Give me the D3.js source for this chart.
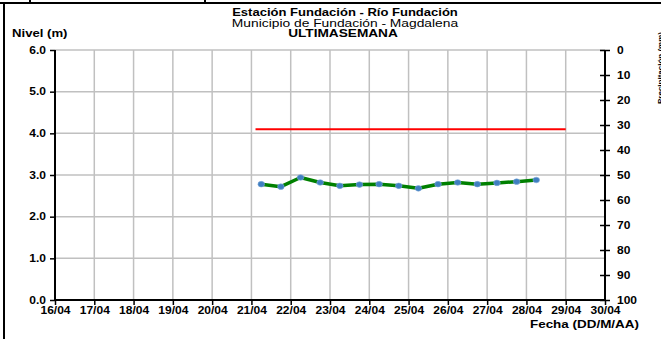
<!DOCTYPE html>
<html>
<head>
<meta charset="utf-8">
<title>nivel</title>
<style>
  body { margin: 0; background: #fff; }
  svg text { font-family: "Liberation Sans", Arial, sans-serif; }
</style>
</head>
<body>
<svg id="chart"></svg>
<script src="https://cdn.jsdelivr.net/npm/d3@7"></script>
<script>
var fechas = ["2024-04-21 06:00", "2024-04-21 18:00", "2024-04-22 06:00", "2024-04-22 18:00",
              "2024-04-23 06:00", "2024-04-23 18:00", "2024-04-24 06:00", "2024-04-24 18:00",
              "2024-04-25 06:00", "2024-04-25 18:00", "2024-04-26 06:00", "2024-04-26 18:00",
              "2024-04-27 06:00", "2024-04-27 18:00", "2024-04-28 06:00"];
var niveles = [2.78, 2.72, 2.94, 2.82, 2.74, 2.77, 2.78, 2.74, 2.68, 2.78, 2.82, 2.78, 2.81, 2.84, 2.88];
var umbral = 4.1;
var umbralDesde = "2024-04-21 02:30";
var umbralHasta = "2024-04-29 00:00";
var yTicks = [0, 1, 2, 3, 4, 5, 6];
var precipTicks = [0, 10, 20, 30, 40, 50, 60, 70, 80, 90, 100];

var W = 661, H = 339;
var mLeft = 55, mRight = 605, mTop = 50, mBottom = 300;
var parse = d3.timeParse("%Y-%m-%d %H:%M");

var svg = d3.select("#chart").attr("width", W).attr("height", H);

// stretch text horizontally (reference font is wider than Liberation Sans)
function stretch(sel, k) {
    sel.each(function() {
        var len = this.getComputedTextLength();
        d3.select(this).attr("textLength", len * k).attr("lengthAdjust", "spacingAndGlyphs");
    });
}

// frame
svg.append("line").attr("x1", 0).attr("x2", W).attr("y1", 3).attr("y2", 3)
   .attr("stroke", "#000").attr("stroke-width", 2);
svg.append("line").attr("x1", 4).attr("x2", 4).attr("y1", 3).attr("y2", H)
   .attr("stroke", "#000").attr("stroke-width", 2);
[30, 205].forEach(function(x) {
    svg.append("line").attr("x1", x).attr("x2", x).attr("y1", 0).attr("y2", 3)
       .attr("stroke", "#000").attr("stroke-width", 2);
});

var x = d3.scaleTime()
    .domain([new Date(2024, 3, 16), new Date(2024, 3, 30)])
    .range([mLeft, mRight]);
var y = d3.scaleLinear().domain([0, 6]).range([mBottom, mTop]);
var y2 = d3.scaleLinear().domain([0, 100]).range([mTop, mBottom]);
var days = d3.timeDay.range(new Date(2024, 3, 16), new Date(2024, 3, 31));

// grid
svg.append("g").selectAll("line").data(days.slice(1, -1)).enter().append("line")
    .attr("x1", d => x(d)).attr("x2", d => x(d))
    .attr("y1", mTop).attr("y2", mBottom)
    .attr("stroke", "#c0c0c0").attr("stroke-width", 1.5);
svg.append("g").selectAll("line").data(yTicks.slice(1)).enter().append("line")
    .attr("x1", mLeft).attr("x2", mRight)
    .attr("y1", d => y(d)).attr("y2", d => y(d))
    .attr("stroke", "#c0c0c0").attr("stroke-width", 1.5);

// left axis
var gy = svg.append("g").attr("transform", "translate(" + mLeft + ",0)")
    .call(d3.axisLeft(y).tickValues(yTicks).tickFormat(d3.format(".1f")).tickSize(5).tickPadding(4));
// bottom axis
var gx = svg.append("g").attr("transform", "translate(0," + mBottom + ")")
    .call(d3.axisBottom(x).tickValues(days).tickFormat(d3.timeFormat("%d/%m")).tickSize(5).tickPadding(2));
// right axis
var gr = svg.append("g").attr("transform", "translate(" + mRight + ",0)")
    .call(d3.axisRight(y2).tickValues(precipTicks).tickSize(5).tickPadding(7));
gr.selectAll(".tick line").attr("x1", -5);

[gy, gx, gr].forEach(function(g) {
    g.select(".domain").attr("stroke", "#000").attr("stroke-width", 2);
    g.selectAll(".tick line").attr("stroke", "#000").attr("stroke-width", 1.5);
    g.selectAll("text").attr("fill", "#000").style("font-size", "10px")
     .style("font-weight", "bold").style("font-family", "Liberation Sans, Arial, sans-serif");
    stretch(g.selectAll("text"), 1.2);
});
gr.select(".domain").attr("d", "M0," + mTop + "V" + mBottom);
gy.select(".domain").attr("d", "M0," + mTop + "V" + mBottom);
gx.select(".domain").attr("d", "M" + mLeft + ",0H" + mRight);

// threshold
svg.append("line")
    .attr("x1", x(parse(umbralDesde))).attr("x2", x(parse(umbralHasta)))
    .attr("y1", y(umbral)).attr("y2", y(umbral))
    .attr("stroke", "#ff0000").attr("stroke-width", 2);

// series
var data = fechas.map(function(f, i) { return { t: parse(f), v: niveles[i] }; });
svg.append("path").datum(data)
    .attr("fill", "none").attr("stroke", "#008000").attr("stroke-width", 3.5)
    .attr("stroke-linejoin", "round")
    .attr("d", d3.line().x(d => x(d.t)).y(d => y(d.v)));
svg.append("g").selectAll("ellipse").data(data).enter().append("ellipse")
    .attr("cx", d => x(d.t)).attr("cy", d => y(d.v)).attr("rx", 3.3).attr("ry", 2.8)
    .attr("fill", "#3f7fc0").attr("stroke", "#7fa8d8").attr("stroke-width", 0.6);

// titles
var t1 = svg.append("text").attr("x", 345).attr("y", 16).attr("text-anchor", "middle")
    .style("font-size", "10.5px").style("font-weight", "bold").text("Estación Fundación - Río Fundación");
var t2 = svg.append("text").attr("x", 345).attr("y", 26.5).attr("text-anchor", "middle")
    .style("font-size", "10px").text("Municipio de Fundación - Magdalena");
var t3 = svg.append("text").attr("x", 343).attr("y", 37).attr("text-anchor", "middle")
    .style("font-size", "10.5px").style("font-weight", "bold").text("ULTIMASEMANA");
var t4 = svg.append("text").attr("x", 12).attr("y", 37)
    .style("font-size", "10.5px").style("font-weight", "bold").text("Nivel (m)");
var t5 = svg.append("text").attr("x", 639).attr("y", 328).attr("text-anchor", "end")
    .style("font-size", "10.5px").style("font-weight", "bold").text("Fecha (DD/M/AA)");
stretch(t1, 1.24);
stretch(t2, 1.38);
stretch(t3, 1.3);
stretch(t4, 1.25);
stretch(t5, 1.28);
svg.append("text").attr("transform", "translate(663,68) rotate(-90)").attr("text-anchor", "middle")
    .style("font-size", "8px").style("font-weight", "bold").text("Precipitación (mm)");
</script>
</body>
</html>
